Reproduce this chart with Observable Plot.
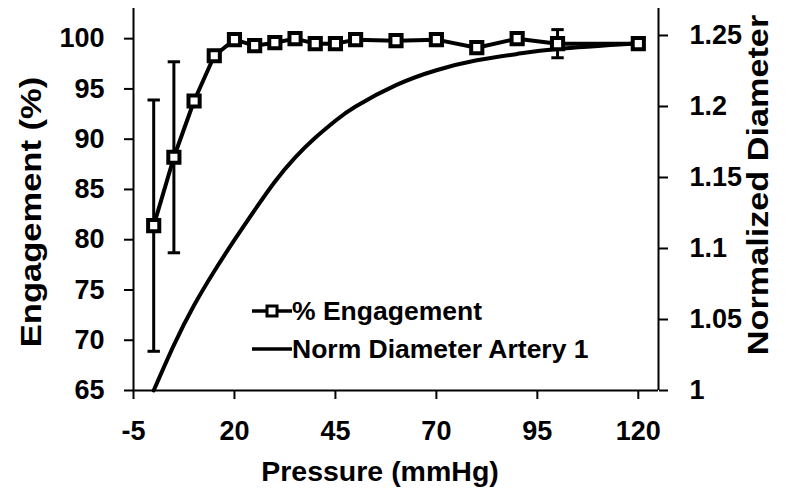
<!DOCTYPE html>
<html><head><meta charset="utf-8">
<script src="https://cdn.jsdelivr.net/npm/d3@7"></script>
<script src="https://cdn.jsdelivr.net/npm/@observablehq/plot@0.6"></script>
<style>
body{margin:0;background:#fff;}
#wrap{position:relative;width:790px;height:497px;font-family:Arial,"Liberation Sans",sans-serif;overflow:hidden;}
#legend{position:absolute;left:252px;top:292px;font-weight:bold;font-size:26.5px;color:#000;}
#legend .row{display:flex;align-items:center;height:38px;white-space:nowrap;}
#legend svg{display:block;}
.title{position:absolute;font-weight:bold;color:#000;white-space:nowrap;line-height:1;}
</style>
</head><body>
<div id="wrap"><div id="chart"></div><div id="legend"></div></div>
<script>
// ---- data ----
const pressure = [0, 5, 10, 15, 20, 25, 30, 35, 40, 45, 50, 60, 70, 80, 90, 100, 120];
const engagement = [81.4, 88.2, 93.8, 98.3, 99.9, 99.3, 99.6, 100.0, 99.5, 99.5, 99.9, 99.8, 99.9, 99.1, 100.0, 99.5, 99.5];
const engagementErr = [12.5, 9.5, 0.5, 0.3, 0.3, 0.2, 0.2, 0.2, 0.2, 0.2, 0.2, 0.2, 0.2, 0.2, 0.3, 1.4, 0.3];
const diameterPressure = [0, 5, 10, 15, 20, 25, 30, 35, 40, 45, 50, 60, 70, 80, 90, 100, 120];
const diameter = [1.000, 1.032, 1.060, 1.084, 1.106, 1.127, 1.147, 1.164, 1.178, 1.190, 1.200, 1.215, 1.2255, 1.2325, 1.237, 1.2405, 1.2445];
const xTicks = [-5, 20, 45, 70, 95, 120];
const yTicks = [65, 70, 75, 80, 85, 90, 95, 100];
const rightTicks = [1, 1.05, 1.1, 1.15, 1.2, 1.25];
const seriesNames = ["% Engagement", "Norm Diameter Artery 1"];
const titles = {x: "Pressure (mmHg)", y: "Engagement (%)", y2: "Normalized Diameter"};

// ---- scales ----
const xDomain = [-5, 125];
const yDomain = [65, 103];
const dDomain = [1, 1.269];
const toY = d => yDomain[0] + (d - dDomain[0]) * (yDomain[1] - yDomain[0]) / (dDomain[1] - dDomain[0]);
const fromY = v => dDomain[0] + (v - yDomain[0]) * (dDomain[1] - dDomain[0]) / (yDomain[1] - yDomain[0]);

const eng = pressure.map((p, i) => ({p, v: engagement[i], lo: engagement[i] - engagementErr[i], hi: engagement[i] + engagementErr[i]}));
const dia = diameterPressure.map((p, i) => ({p, y: toY(diameter[i])}));

const capSymbol = {draw(ctx, size) { const w = Math.sqrt(size); ctx.moveTo(-w / 2, 0); ctx.lineTo(w / 2, 0); }};

const font = 'Arial, "Liberation Sans", sans-serif';
const chart = Plot.plot({
  width: 790, height: 497,
  marginLeft: 133, marginRight: 132, marginTop: 8, marginBottom: 107,
  style: {fontFamily: font, fontSize: "27px", fontWeight: "bold", color: "#000", background: "white"},
  x: {domain: xDomain},
  y: {domain: yDomain},
  marks: [
    Plot.axisX({ticks: xTicks, tickSize: 9, tickPadding: 21, strokeWidth: 2, label: null, tickFormat: d => String(d)}),
    Plot.axisY({ticks: yTicks, tickSize: 9, tickPadding: 20, strokeWidth: 2, label: null}),
    Plot.axisY({anchor: "right", ticks: rightTicks.map(toY), tickSize: 9, tickPadding: 22, strokeWidth: 2, label: null,
      tickFormat: v => String(+fromY(v).toFixed(3))}),
    Plot.ruleX([xDomain[0]], {stroke: "black", strokeWidth: 2}),
    Plot.ruleX([xDomain[1]], {stroke: "black", strokeWidth: 2}),
    Plot.ruleY([yDomain[0]], {stroke: "black", strokeWidth: 2}),
    Plot.line(dia, {x: "p", y: "y", curve: "natural", stroke: "black", strokeWidth: 4}),
    Plot.line(eng, {x: "p", y: "v", stroke: "black", strokeWidth: 4}),
    Plot.ruleX(eng, {x: "p", y1: "lo", y2: "hi", stroke: "black", strokeWidth: 3}),
    Plot.dot(eng, {x: "p", y: "lo", symbol: capSymbol, r: 7, stroke: "black", strokeWidth: 3, fill: "none"}),
    Plot.dot(eng, {x: "p", y: "hi", symbol: capSymbol, r: 7, stroke: "black", strokeWidth: 3, fill: "none"}),
    Plot.dot(eng, {x: "p", y: "v", symbol: "square", r: 6.3, fill: "white", stroke: "black", strokeWidth: 4})
  ]
});
const wrap = document.getElementById("wrap");
document.getElementById("chart").appendChild(chart);

// ---- axis titles ----
function addTitle(text, cx, cy, size, rotate, stretch) {
  const d = document.createElement("div");
  d.className = "title";
  d.textContent = text;
  d.style.left = cx + "px";
  d.style.top = cy + "px";
  d.style.fontSize = size + "px";
  d.style.transform = `translate(-50%,-50%) rotate(${rotate}deg) scaleX(${stretch})`;
  wrap.appendChild(d);
}
addTitle(titles.y, 31, 212, 29, -90, 1.19);
addTitle(titles.y2, 758, 185, 29, -90, 1.18);
addTitle(titles.x, 380, 471, 28.5, 0, 1);

// ---- legend ----
const legend = document.getElementById("legend");
seriesNames.forEach((name, i) => {
  const row = document.createElement("div");
  row.className = "row";
  const marker = i === 0 ? '<rect x="15" y="14" width="10" height="10" fill="white" stroke="black" stroke-width="3"/>' : '';
  row.innerHTML = `<svg width="40" height="38"><line x1="0" x2="40" y1="19" y2="19" stroke="black" stroke-width="3.5"/>${marker}</svg><span>${name}</span>`;
  legend.appendChild(row);
});
</script>
</body></html>
